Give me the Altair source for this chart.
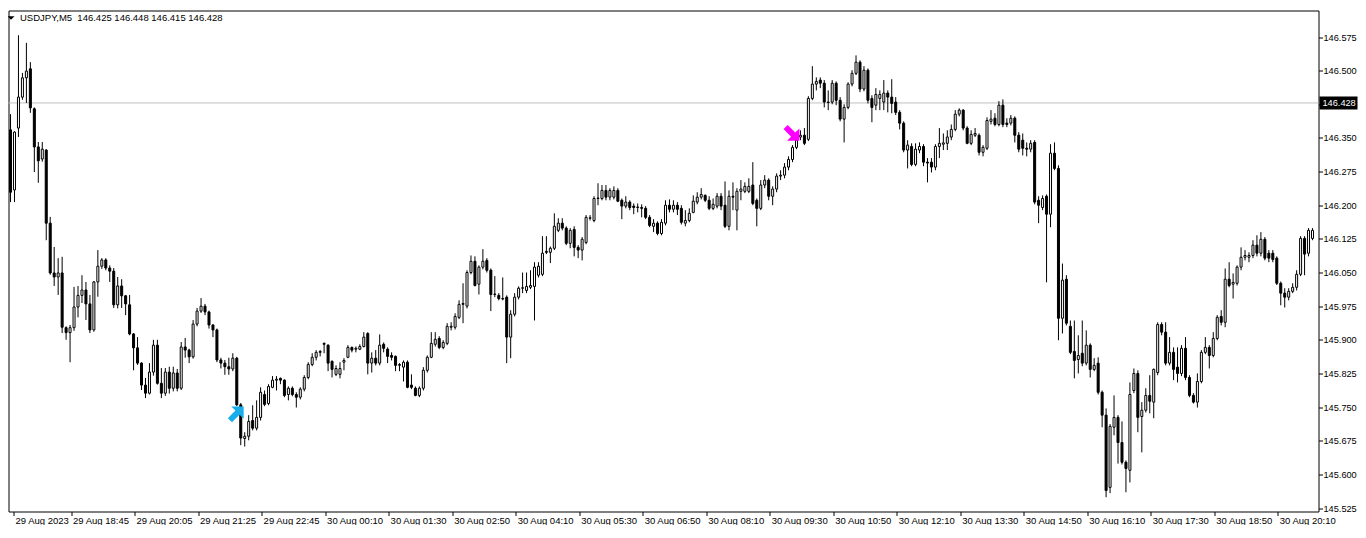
import json
import altair as alt
import pandas as pd

chart_title = "USDJPY,M5\u00a0 146.425 146.448 146.415 146.428"
last_price = 146.428

time_labels = ["29 Aug 2023", "29 Aug 18:45", "29 Aug 20:05", "29 Aug 21:25", "29 Aug 22:45",
               "30 Aug 00:10", "30 Aug 01:30", "30 Aug 02:50", "30 Aug 04:10", "30 Aug 05:30",
               "30 Aug 06:50", "30 Aug 08:10", "30 Aug 09:30", "30 Aug 10:50", "30 Aug 12:10",
               "30 Aug 13:30", "30 Aug 14:50", "30 Aug 16:10", "30 Aug 17:30", "30 Aug 18:50",
               "30 Aug 20:10"]
label_bars = [0.75, 15.25, 31.25, 47.25, 63.25, 79.25, 95.25, 111.25, 127.25, 143.25, 159.25,
              175.25, 191.25, 207.25, 223.25, 239.25, 255.25, 271.25, 287.25, 303.25, 319.25]
price_ticks = [145.525, 145.600, 145.675, 145.750, 145.825, 145.900, 145.975, 146.050,
               146.125, 146.200, 146.275, 146.350, 146.425, 146.500, 146.575]

opens = [
    146.368, 146.234, 146.372, 146.441, 146.484, 146.504, 146.415, 146.330, 146.303, 146.323,
    146.160, 146.049, 146.040, 146.049, 145.927, 145.916, 145.927, 145.973, 145.999, 146.011,
    145.980, 145.922, 146.029, 146.064, 146.078, 146.060, 146.053, 145.978, 146.020, 145.998,
    145.978, 145.913, 145.882, 145.848, 145.799, 145.781, 145.828, 145.888, 145.803, 145.781,
    145.828, 145.792, 145.826, 145.792, 145.884, 145.877, 145.862, 145.935, 145.964, 145.975,
    145.962, 145.933, 145.922, 145.855, 145.848, 145.840, 145.835, 145.859, 145.755, 145.680,
    145.685, 145.720, 145.703, 145.727, 145.778, 145.758, 145.794, 145.810, 145.814, 145.810,
    145.778, 145.792, 145.778, 145.772, 145.790, 145.816, 145.845, 145.861, 145.872, 145.892,
    145.888, 145.852, 145.823, 145.823, 145.850, 145.861, 145.883, 145.879, 145.879, 145.885,
    145.914, 145.848, 145.859, 145.848, 145.890, 145.879, 145.865, 145.863, 145.843, 145.839,
    145.850, 145.799, 145.792, 145.776, 145.792, 145.832, 145.861, 145.890, 145.903, 145.883,
    145.892, 145.928, 145.928, 145.950, 145.979, 145.975, 146.050, 146.075, 146.024, 146.062,
    146.077, 146.055, 146.001, 145.999, 145.992, 145.995, 145.906, 145.957, 145.995, 146.015,
    146.010, 146.017, 146.019, 146.044, 146.046, 146.097, 146.095, 146.104, 146.144, 146.160,
    146.149, 146.115, 146.146, 146.106, 146.100, 146.117, 146.171, 146.166, 146.215, 146.215,
    146.233, 146.218, 146.218, 146.233, 146.211, 146.198, 146.207, 146.198, 146.195, 146.195,
    146.193, 146.173, 146.153, 146.160, 146.137, 146.160, 146.200, 146.191, 146.200, 146.193,
    146.160, 146.166, 146.184, 146.207, 146.218, 146.222, 146.211, 146.193, 146.198, 146.220,
    146.200, 146.153, 146.220, 146.189, 146.231, 146.231, 146.231, 146.245, 146.211, 146.193,
    146.245, 146.256, 146.220, 146.236, 146.265, 146.267, 146.285, 146.302, 146.329, 146.352,
    146.356, 146.347, 146.438, 146.470, 146.479, 146.472, 146.430, 146.430, 146.472, 146.434,
    146.392, 146.418, 146.470, 146.494, 146.519, 146.459, 146.501, 146.438, 146.423, 146.438,
    146.430, 146.450, 146.441, 146.430, 146.407, 146.383, 146.323, 146.331, 146.291, 146.323,
    146.331, 146.296, 146.296, 146.285, 146.331, 146.336, 146.338, 146.352, 146.369, 146.403,
    146.412, 146.372, 146.338, 146.356, 146.356, 146.318, 146.327, 146.387, 146.394, 146.380,
    146.423, 146.383, 146.383, 146.394, 146.356, 146.345, 146.327, 146.325, 146.340, 146.211,
    146.195, 146.220, 146.180, 146.316, 146.282, 145.948, 146.035, 145.930, 145.874, 145.856,
    145.870, 145.848, 145.888, 145.834, 145.848, 145.783, 145.732, 145.571, 145.705, 145.727,
    145.671, 145.627, 145.609, 145.787, 145.825, 145.729, 145.743, 145.776, 145.761, 145.827,
    145.934, 145.917, 145.848, 145.872, 145.839, 145.825, 145.881, 145.816, 145.776, 145.761,
    145.807, 145.872, 145.883, 145.865, 145.903, 145.952, 145.939, 146.035, 146.024, 146.026,
    146.062, 146.084, 146.084, 146.088, 146.111, 146.093, 146.124, 146.093, 146.093, 146.082,
    146.026, 146.004, 145.995, 146.008, 146.017, 146.046, 146.126, 146.093, 146.126,
]

highs = [
    146.403, 146.365, 146.579, 146.495, 146.562, 146.519, 146.418, 146.341, 146.341, 146.325,
    146.174, 146.107, 146.082, 146.085, 145.930, 145.933, 146.018, 146.020, 146.044, 146.029,
    146.000, 146.031, 146.100, 146.082, 146.082, 146.066, 146.060, 146.040, 146.035, 146.000,
    146.000, 145.915, 145.906, 145.850, 145.815, 145.848, 145.900, 145.900, 145.837, 145.837,
    145.840, 145.840, 145.835, 145.895, 145.904, 145.880, 145.944, 145.971, 145.993, 145.980,
    145.965, 145.935, 145.925, 145.860, 145.855, 145.860, 145.870, 145.862, 145.759, 145.694,
    145.732, 145.754, 145.765, 145.794, 145.787, 145.801, 145.819, 145.819, 145.816, 145.812,
    145.796, 145.796, 145.783, 145.794, 145.821, 145.850, 145.870, 145.877, 145.877, 145.894,
    145.890, 145.854, 145.843, 145.850, 145.859, 145.888, 145.885, 145.885, 145.890, 145.917,
    145.917, 145.872, 145.877, 145.912, 145.894, 145.883, 145.872, 145.865, 145.848, 145.854,
    145.854, 145.823, 145.796, 145.796, 145.839, 145.865, 145.917, 145.917, 145.908, 145.899,
    145.937, 145.939, 145.959, 145.988, 146.026, 146.055, 146.088, 146.086, 146.066, 146.102,
    146.082, 146.059, 146.042, 146.004, 146.039, 145.999, 145.966, 146.004, 146.019, 146.050,
    146.050, 146.055, 146.073, 146.073, 146.131, 146.131, 146.108, 146.182, 146.171, 146.171,
    146.153, 146.149, 146.153, 146.111, 146.129, 146.178, 146.178, 146.220, 146.249, 146.245,
    146.245, 146.238, 146.242, 146.238, 146.215, 146.220, 146.211, 146.204, 146.204, 146.202,
    146.198, 146.178, 146.169, 146.164, 146.169, 146.211, 146.213, 146.211, 146.207, 146.200,
    146.189, 146.193, 146.222, 146.229, 146.238, 146.224, 146.220, 146.215, 146.227, 146.227,
    146.253, 146.233, 146.251, 146.238, 146.256, 146.251, 146.260, 146.296, 146.215, 146.256,
    146.267, 146.260, 146.242, 146.271, 146.278, 146.294, 146.309, 146.334, 146.354, 146.367,
    146.372, 146.443, 146.510, 146.485, 146.485, 146.479, 146.456, 146.479, 146.476, 146.441,
    146.425, 146.474, 146.501, 146.534, 146.523, 146.510, 146.505, 146.445, 146.461, 146.456,
    146.479, 146.456, 146.481, 146.441, 146.412, 146.387, 146.345, 146.338, 146.338, 146.340,
    146.336, 146.305, 146.305, 146.336, 146.372, 146.360, 146.367, 146.380, 146.412, 146.416,
    146.414, 146.376, 146.367, 146.372, 146.360, 146.334, 146.396, 146.412, 146.405, 146.432,
    146.436, 146.394, 146.401, 146.398, 146.363, 146.360, 146.340, 146.345, 146.345, 146.220,
    146.222, 146.224, 146.336, 146.340, 146.289, 146.070, 146.044, 145.943, 145.943, 145.910,
    145.943, 145.921, 145.892, 145.859, 145.861, 145.787, 145.747, 145.712, 145.776, 145.732,
    145.718, 145.631, 145.805, 145.836, 145.832, 145.761, 145.792, 145.821, 145.836, 145.939,
    145.939, 145.939, 145.906, 145.883, 145.883, 145.888, 145.906, 145.821, 145.781, 145.825,
    145.877, 145.906, 145.888, 145.917, 145.955, 145.966, 146.059, 146.073, 146.048, 146.066,
    146.106, 146.100, 146.095, 146.122, 146.133, 146.140, 146.129, 146.100, 146.100, 146.086,
    146.030, 146.015, 146.015, 146.026, 146.055, 146.131, 146.131, 146.149, 146.149,
]

lows = [
    146.207, 146.207, 146.352, 146.435, 146.428, 146.406, 146.274, 146.250, 146.297, 146.122,
    146.045, 146.020, 146.000, 145.915, 145.900, 145.850, 145.920, 145.950, 145.982, 145.944,
    145.915, 145.918, 145.996, 146.058, 146.055, 146.029, 145.971, 145.970, 145.971, 145.955,
    145.910, 145.832, 145.844, 145.788, 145.770, 145.778, 145.820, 145.800, 145.770, 145.775,
    145.780, 145.785, 145.785, 145.788, 145.860, 145.848, 145.858, 145.930, 145.960, 145.955,
    145.925, 145.906, 145.850, 145.836, 145.822, 145.822, 145.830, 145.752, 145.665, 145.662,
    145.676, 145.698, 145.698, 145.720, 145.752, 145.754, 145.792, 145.787, 145.801, 145.772,
    145.765, 145.774, 145.749, 145.767, 145.785, 145.812, 145.841, 145.854, 145.863, 145.870,
    145.830, 145.816, 145.819, 145.814, 145.832, 145.859, 145.872, 145.872, 145.877, 145.883,
    145.823, 145.827, 145.843, 145.843, 145.872, 145.848, 145.854, 145.830, 145.830, 145.807,
    145.792, 145.790, 145.774, 145.772, 145.787, 145.827, 145.859, 145.885, 145.879, 145.879,
    145.888, 145.921, 145.923, 145.946, 145.937, 145.970, 146.046, 146.019, 146.001, 146.057,
    146.050, 145.964, 145.995, 145.988, 145.988, 145.848, 145.859, 145.952, 145.990, 146.004,
    146.004, 146.013, 145.943, 146.039, 146.042, 146.091, 146.071, 146.100, 146.140, 146.144,
    146.111, 146.104, 146.086, 146.082, 146.077, 146.113, 146.166, 146.162, 146.200, 146.211,
    146.211, 146.211, 146.213, 146.207, 146.169, 146.193, 146.189, 146.180, 146.184, 146.173,
    146.169, 146.151, 146.140, 146.133, 146.133, 146.155, 146.184, 146.184, 146.178, 146.157,
    146.153, 146.162, 146.182, 146.202, 146.213, 146.207, 146.189, 146.189, 146.193, 146.189,
    146.149, 146.144, 146.189, 146.144, 146.211, 146.227, 146.227, 146.200, 146.153, 146.189,
    146.238, 146.211, 146.200, 146.229, 146.256, 146.260, 146.278, 146.296, 146.325, 146.345,
    146.334, 146.343, 146.434, 146.456, 146.461, 146.418, 146.412, 146.425, 146.423, 146.387,
    146.340, 146.414, 146.465, 146.490, 146.452, 146.454, 146.427, 146.385, 146.412, 146.412,
    146.412, 146.407, 146.405, 146.401, 146.369, 146.318, 146.282, 146.287, 146.287, 146.316,
    146.287, 146.251, 146.273, 146.278, 146.305, 146.323, 146.323, 146.345, 146.365, 146.398,
    146.367, 146.336, 146.334, 146.352, 146.311, 146.309, 146.323, 146.380, 146.376, 146.376,
    146.374, 146.374, 146.378, 146.340, 146.318, 146.311, 146.309, 146.318, 146.202, 146.160,
    146.189, 146.028, 146.151, 146.278, 145.899, 145.914, 145.932, 145.868, 145.814, 145.825,
    145.841, 145.843, 145.816, 145.830, 145.778, 145.705, 145.549, 145.558, 145.687, 145.624,
    145.622, 145.560, 145.582, 145.781, 145.694, 145.649, 145.738, 145.736, 145.725, 145.821,
    145.910, 145.843, 145.843, 145.810, 145.805, 145.819, 145.810, 145.772, 145.758, 145.749,
    145.803, 145.868, 145.836, 145.861, 145.899, 145.932, 145.928, 146.017, 145.992, 146.021,
    146.055, 146.077, 146.073, 146.082, 146.086, 146.086, 146.077, 146.073, 146.073, 146.022,
    145.977, 145.972, 145.988, 146.004, 146.010, 146.042, 146.044, 146.086, 146.122,
]

closes = [
    146.229, 146.363, 146.441, 146.484, 146.499, 146.417, 146.330, 146.299, 146.325, 146.160,
    146.049, 146.040, 146.049, 145.928, 145.916, 145.927, 145.973, 145.999, 146.011, 145.980,
    145.922, 146.029, 146.064, 146.078, 146.060, 146.053, 145.978, 146.020, 145.998, 145.980,
    145.913, 145.882, 145.848, 145.799, 145.781, 145.828, 145.888, 145.803, 145.781, 145.828,
    145.792, 145.826, 145.792, 145.884, 145.877, 145.862, 145.935, 145.964, 145.975, 145.962,
    145.933, 145.922, 145.855, 145.848, 145.840, 145.835, 145.859, 145.755, 145.681, 145.685,
    145.718, 145.703, 145.727, 145.783, 145.756, 145.796, 145.810, 145.812, 145.810, 145.776,
    145.792, 145.778, 145.772, 145.790, 145.816, 145.845, 145.861, 145.872, 145.874, 145.890,
    145.848, 145.834, 145.836, 145.836, 145.854, 145.883, 145.877, 145.881, 145.885, 145.906,
    145.848, 145.859, 145.848, 145.888, 145.881, 145.863, 145.861, 145.843, 145.845, 145.850,
    145.794, 145.794, 145.776, 145.792, 145.832, 145.861, 145.892, 145.901, 145.883, 145.894,
    145.930, 145.930, 145.952, 145.979, 145.981, 146.050, 146.075, 146.021, 146.062, 146.075,
    146.055, 146.001, 146.002, 145.992, 145.991, 145.906, 145.957, 145.995, 146.015, 146.016,
    146.019, 146.021, 146.062, 146.064, 146.093, 146.095, 146.104, 146.153, 146.160, 146.149,
    146.115, 146.144, 146.106, 146.100, 146.124, 146.173, 146.172, 146.215, 146.216, 146.233,
    146.218, 146.233, 146.233, 146.209, 146.198, 146.207, 146.195, 146.195, 146.196, 146.193,
    146.173, 146.155, 146.160, 146.137, 146.162, 146.200, 146.191, 146.200, 146.191, 146.162,
    146.166, 146.182, 146.209, 146.218, 146.224, 146.211, 146.193, 146.202, 146.220, 146.198,
    146.153, 146.220, 146.218, 146.231, 146.236, 146.242, 146.242, 146.204, 146.193, 146.245,
    146.256, 146.220, 146.236, 146.265, 146.267, 146.285, 146.302, 146.329, 146.345, 146.356,
    146.338, 146.438, 146.470, 146.476, 146.472, 146.430, 146.429, 146.472, 146.434, 146.392,
    146.418, 146.470, 146.494, 146.519, 146.459, 146.501, 146.434, 146.418, 146.447, 146.447,
    146.450, 146.441, 146.427, 146.407, 146.383, 146.323, 146.334, 146.291, 146.325, 146.331,
    146.296, 146.294, 146.285, 146.331, 146.338, 146.339, 146.352, 146.369, 146.403, 146.412,
    146.372, 146.338, 146.358, 146.360, 146.318, 146.329, 146.389, 146.392, 146.380, 146.423,
    146.380, 146.380, 146.394, 146.356, 146.325, 146.327, 146.325, 146.338, 146.207, 146.200,
    146.215, 146.180, 146.316, 146.282, 145.948, 146.033, 145.937, 145.872, 145.854, 145.865,
    145.848, 145.888, 145.834, 145.843, 145.783, 145.732, 145.564, 145.707, 145.727, 145.671,
    145.627, 145.613, 145.778, 145.825, 145.727, 145.743, 145.776, 145.763, 145.834, 145.934,
    145.917, 145.848, 145.872, 145.834, 145.825, 145.881, 145.816, 145.776, 145.761, 145.807,
    145.872, 145.883, 145.865, 145.903, 145.950, 145.939, 146.035, 146.021, 146.028, 146.062,
    146.084, 146.088, 146.088, 146.111, 146.093, 146.124, 146.082, 146.082, 146.079, 146.026,
    146.004, 145.995, 146.008, 146.017, 146.046, 146.126, 146.091, 146.144, 146.144,
]

buy_arrow_bar = [57]
buy_arrow_price = [145.736]
sell_arrow_bar = [197]
sell_arrow_price = [146.359]

n = len(opens)
assert len(highs) == n and len(lows) == n and len(closes) == n, (len(opens), len(highs), len(lows), len(closes))

candles = pd.DataFrame({"bar": list(range(n)), "open": opens, "high": highs,
                        "low": lows, "close": closes})
candles["bear"] = candles["close"] < candles["open"]

FONT = "Liberation Sans"
FS = 9.5
YFS = 9.2
W, H = 1310, 501
xscale = alt.Scale(domain=[0.75, 328.25], nice=False, zero=False)
yscale = alt.Scale(domain=[145.5172, 146.6341], nice=False, zero=False)

label_expr = json.dumps(time_labels) + "[round((datum.value + 0.75) / 16)]"

x_axis = alt.Axis(values=label_bars, labelExpr=label_expr, orient="bottom", tickSize=4,
                  tickColor="black", tickWidth=1, domain=False, grid=False,
                  labelAlign="left", labelBaseline="top", labelPadding=0, labelOffset=1.5,
                  labelFlush=False, labelOverlap=False, labelBound=False,
                  labelFont=FONT, labelFontSize=FS, labelColor="black", title=None)
y_axis = alt.Axis(values=price_ticks, format=".3f", orient="right", tickSize=4,
                  tickColor="black", tickWidth=1, domain=False, grid=False,
                  labelPadding=0.5, labelFlush=False, labelOverlap=False, labelBound=False,
                  labelBaseline="middle", labelFont=FONT, labelFontSize=YFS,
                  labelColor="black", title=None)


def xenc(field):
    return alt.X(field, scale=xscale, axis=x_axis)


def yenc(field):
    return alt.Y(field, scale=yscale, axis=y_axis)


price_df = pd.DataFrame({"price": [last_price], "label": [f"{last_price:.3f}"]})

price_line = alt.Chart(price_df).mark_rule(color="#C0C0C0", strokeWidth=1).encode(
    y=yenc("price:Q")
)

wicks = alt.Chart(candles).mark_rule(color="black", strokeWidth=1, clip=True).encode(
    x=xenc("bar:Q"), y=yenc("low:Q"), y2="high:Q",
)

bodies = alt.Chart(candles).mark_bar(size=2, stroke="black", strokeWidth=1, clip=True).encode(
    x=xenc("bar:Q"), y=yenc("open:Q"), y2="close:Q",
    fill=alt.condition(alt.datum.bear, alt.value("black"), alt.value("white")),
)

arrow_path = "M0,-1L0.9,-0.1L0.3,-0.1L0.3,1L-0.3,1L-0.3,-0.1L-0.9,-0.1Z"
buy_df = pd.DataFrame({"bar": buy_arrow_bar, "price": buy_arrow_price})
sell_df = pd.DataFrame({"bar": sell_arrow_bar, "price": sell_arrow_price})

buy_arrow = alt.Chart(buy_df).mark_point(shape=arrow_path, filled=True, size=380, angle=45,
                                         color="#19AEEA", opacity=1, strokeWidth=0).encode(
    x=xenc("bar:Q"), y=yenc("price:Q"),
)
sell_arrow = alt.Chart(sell_df).mark_point(shape=arrow_path, filled=True, size=380, angle=135,
                                           color="#FF00FF", opacity=1, strokeWidth=0).encode(
    x=xenc("bar:Q"), y=yenc("price:Q"),
)

price_box = alt.Chart(price_df).mark_rect(color="black", yOffset=-6.5, y2Offset=6.5).encode(
    x=alt.value(1311), x2=alt.value(1349),
    y=yenc("price:Q"), y2="price:Q",
)
price_text = alt.Chart(price_df).mark_text(color="white", align="left", baseline="middle",
                                           font=FONT, fontSize=YFS).encode(
    x=alt.value(1314), y=yenc("price:Q"), text="label:N",
)

title_df = pd.DataFrame({"t": [chart_title]})
title_text = alt.Chart(title_df).mark_text(align="left", baseline="middle", font=FONT,
                                           fontSize=FS, color="black").encode(
    x=alt.value(11.5), y=alt.value(7.5), text="t:N"
)
title_marker = alt.Chart(title_df).mark_point(shape="M-1,-0.5L1,-0.5L0,0.5Z", filled=True,
                                              size=49, color="black", opacity=1).encode(
    x=alt.value(2.5), y=alt.value(7.5)
)

chart = alt.layer(
    price_line, wicks, bodies, buy_arrow, sell_arrow, price_box, price_text,
    title_text, title_marker,
).properties(
    width=W, height=H,
    padding={"left": 0.5, "top": 2.5, "right": 39.5, "bottom": 13.5},
    autosize=alt.AutoSizeParams(type="none"),
    background="white",
).configure_view(stroke="black", strokeWidth=1)

chart.save("out.html", embed_options={"renderer": "svg", "actions": False})
